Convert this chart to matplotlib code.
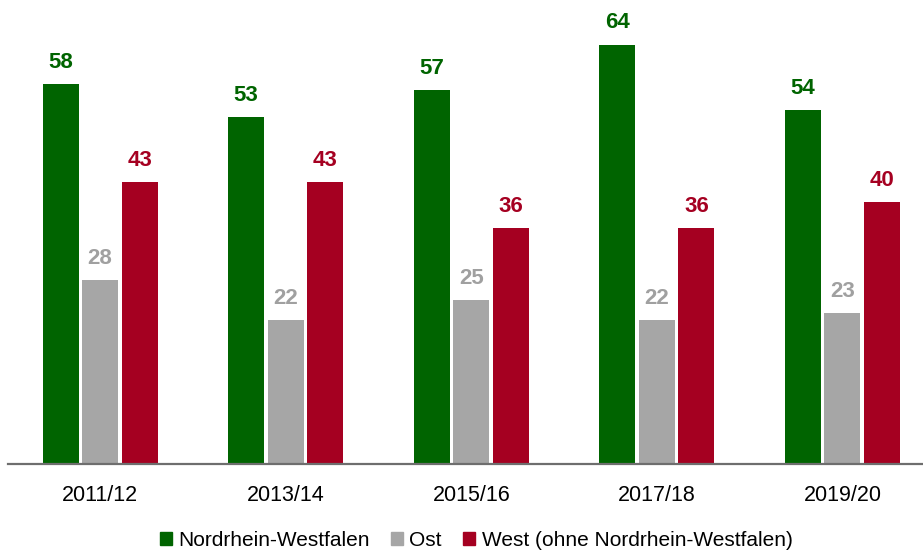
import matplotlib
matplotlib.use("Agg")
import matplotlib.pyplot as plt
from matplotlib.patches import Patch
import numpy as np

plt.rcParams['font.family'] = ['Liberation Sans', 'DejaVu Sans']

categories = ["2011/12", "2013/14", "2015/16", "2017/18", "2019/20"]
series_names = ["Nordrhein-Westfalen", "Ost", "West (ohne Nordrhein-Westfalen)"]
nrw = [58, 53, 57, 64, 54]
ost = [28, 22, 25, 22, 23]
west = [43, 43, 36, 36, 40]

bar_colors = ["#006400", "#A6A6A6", "#A50021"]
label_colors = ["#006400", "#A0A0A0", "#A50021"]

fig = plt.figure(figsize=(9.23, 5.54), dpi=100)
ax = fig.add_axes([8/923, (554-464)/554, 915/923, 464/554])

x = np.arange(len(categories))
width = 0.194
offset = 0.213
for i, (vals, name) in enumerate(zip([nrw, ost, west], series_names)):
    pos = x + (i - 1) * offset
    ax.bar(pos, vals, width=width, color=bar_colors[i], label=name, zorder=2)
    for p, v in zip(pos, vals):
        ax.annotate(str(v), (p, v), xytext=(0, 8), textcoords='offset points',
                    ha='center', va='bottom', fontsize=16, fontweight='bold',
                    color=label_colors[i], annotation_clip=False)

ax.set_xlim(-0.496, 4.434)
ax.set_ylim(0, 70.8)
ax.set_xticks(x)
ax.set_xticklabels(categories, fontsize=15.5)
ax.tick_params(axis='x', length=0, pad=15)
ax.set_yticks([])
for s in ['left', 'right', 'top']:
    ax.spines[s].set_visible(False)
ax.spines['bottom'].set_color('#6E6E6E')
ax.spines['bottom'].set_linewidth(1.6)
ax.spines['bottom'].set_zorder(3)

handles = [Patch(color=c) for c in bar_colors]
fig.legend(handles, series_names, loc='center', bbox_to_anchor=(476/923, 1 - 540/554),
           ncol=3, frameon=False, fontsize=15, handlelength=0.6, handleheight=0.6,
           handletextpad=0.3, columnspacing=1.0)

fig.savefig("out.png", dpi=100)
